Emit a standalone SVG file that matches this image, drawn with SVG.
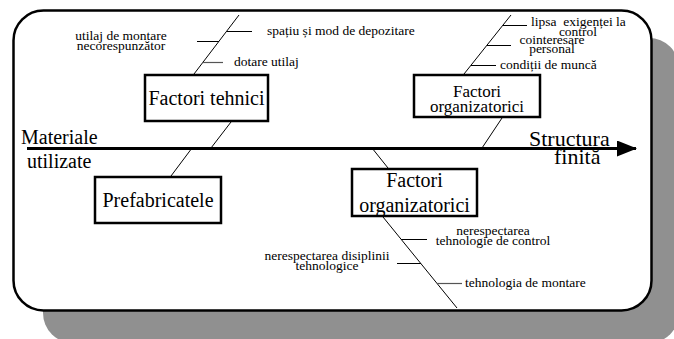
<svg xmlns="http://www.w3.org/2000/svg" width="674" height="339" viewBox="0 0 674 339" font-family="'Liberation Serif', 'DejaVu Serif', serif">
  <style>
    text { font-family: "Liberation Serif", "DejaVu Serif", serif; fill: #000; }
    .s { font-size: 13.5px; }
    .m { font-size: 17px; }
    .b { font-size: 20px; }
    .l { font-size: 22px; }
    .c { text-anchor: middle; }
    .box { fill: #fff; stroke: #000; stroke-width: 2.5; }
    .bone { stroke: #000; stroke-width: 1; fill: none; }
    .tick { stroke: #000; stroke-width: 1; }
    .tick-g { stroke: #555; stroke-width: 1.2; }
  </style>
  <defs>
    <marker id="head" viewBox="0 0 20 16" refX="19" refY="8" markerWidth="20" markerHeight="16" markerUnits="userSpaceOnUse" orient="auto">
      <path d="M0,0 L20,8 L0,16 Z" fill="#000"/>
    </marker>
  </defs>

  <!-- panel with drop shadow -->
  <g id="panel">
    <rect x="43" y="38" width="636" height="305" rx="30" fill="#909090"/>
    <rect x="13.5" y="10.5" width="638" height="300" rx="30" fill="#fff" stroke="#000" stroke-width="2.5"/>
  </g>

  <!-- spine, bones and branch ticks -->
  <g id="connectors">
    <line x1="27" y1="148.5" x2="636" y2="148.5" stroke="#000" stroke-width="3" marker-end="url(#head)"/>

    <!-- technical factors -->
    <line class="bone" x1="239" y1="15" x2="194" y2="74"/>
    <line class="tick" x1="227" y1="31.5" x2="252" y2="31.5"/>
    <line class="tick" x1="197" y1="41.5" x2="219" y2="41.5"/>
    <line class="tick-g" x1="202" y1="62.5" x2="223" y2="62.5"/>
    <line class="bone" x1="231" y1="122" x2="211" y2="148"/>
    <line class="bone" x1="192" y1="148" x2="171" y2="176"/>

    <!-- organisational factors (top) -->
    <line class="bone" x1="511" y1="15" x2="464" y2="74"/>
    <line class="tick" x1="503" y1="25.5" x2="527" y2="25.5"/>
    <line class="tick" x1="487" y1="45.5" x2="511" y2="45.5"/>
    <line class="tick" x1="471" y1="65.5" x2="496" y2="65.5"/>
    <line class="bone" x1="502" y1="118" x2="482" y2="148"/>

    <!-- organisational factors (bottom) -->
    <line class="bone" x1="372" y1="148" x2="388" y2="168"/>
    <line class="bone" x1="383" y1="217" x2="457" y2="308"/>
    <line class="tick" x1="401" y1="239.5" x2="427" y2="239.5"/>
    <line class="tick" x1="397" y1="263.5" x2="421" y2="263.5"/>
    <line class="tick-g" x1="437" y1="283.5" x2="462" y2="283.5"/>
  </g>

  <!-- axis labels -->
  <g id="start-label">
    <text class="b" x="21" y="144">Materiale</text>
    <text class="b" x="27" y="168">utilizate</text>
  </g>
  <g id="end-label">
    <text class="l" x="529" y="145.5">Structura</text>
    <text class="l" x="554" y="164">finită</text>
  </g>

  <!-- cause nodes -->
  <g id="factori-tehnici">
    <rect class="box" x="145" y="75" width="123" height="46"/>
    <text class="b c" x="206.5" y="105">Factori tehnici</text>
  </g>
  <g id="prefabricatele">
    <rect class="box" x="95" y="177" width="126" height="46"/>
    <text class="b c" x="158" y="207">Prefabricatele</text>
  </g>
  <g id="factori-organizatorici-sus">
    <rect class="box" x="414" y="75" width="126" height="42"/>
    <text class="m c" x="477" y="96.5">Factori</text>
    <text class="m c" x="477" y="112">organizatorici</text>
  </g>
  <g id="factori-organizatorici-jos">
    <rect class="box" x="352" y="169" width="125" height="47"/>
    <text class="b c" x="414.5" y="187">Factori</text>
    <text class="b c" x="414.5" y="211.5">organizatorici</text>
  </g>

  <!-- sub-cause labels -->
  <g id="spatiu">
    <text class="s" x="267" y="35">spațiu și mod de depozitare</text>
  </g>
  <g id="utilaj-montare">
    <text class="s c" x="121" y="39.5">utilaj de montare</text>
    <text class="s c" x="121" y="49.5">necorespunzător</text>
  </g>
  <g id="dotare">
    <text class="s" x="234" y="66">dotare utilaj</text>
  </g>
  <g id="lipsa-exigente">
    <text class="s" x="531" y="26" style="white-space:pre">lipsa  exigenței la</text>
    <text class="s c" x="578" y="36">control</text>
  </g>
  <g id="cointeresare">
    <text class="s c" x="552" y="43.5">cointeresare</text>
    <text class="s c" x="552" y="53">personal</text>
  </g>
  <g id="conditii">
    <text class="s" x="500" y="68.5">condiții de muncă</text>
  </g>
  <g id="tehnologie-control">
    <text class="s c" x="493" y="234.5">nerespectarea</text>
    <text class="s c" x="493" y="244.5">tehnologie de control</text>
  </g>
  <g id="disciplina">
    <text class="s c" x="327" y="259.5">nerespectarea disiplinii</text>
    <text class="s c" x="327" y="269.5">tehnologice</text>
  </g>
  <g id="tehnologia-montare">
    <text class="s" x="465" y="287">tehnologia de montare</text>
  </g>
</svg>
